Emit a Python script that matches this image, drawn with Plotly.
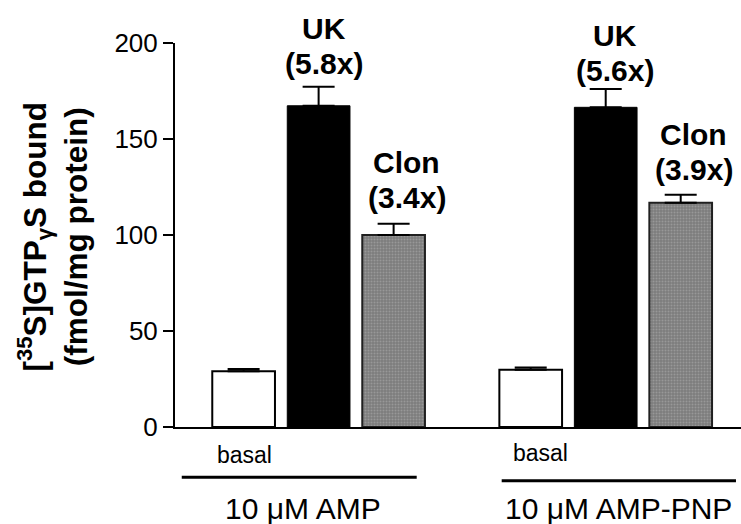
import plotly.graph_objects as go

# [35S]GTPgammaS binding, two nucleotide conditions
groups = ["10 \u03bcM AMP", "10 \u03bcM AMP-PNP"]
conditions = ["basal", "UK", "Clon"]
basal = [29.0, 29.8]
basal_err = [1.2, 1.2]
uk = [167.3, 166.5]
uk_err = [9.9, 9.5]
clon = [100.0, 116.8]
clon_err = [5.9, 4.2]
y_ticks = [0, 50, 100, 150, 200]

FONT = "Arial, Liberation Sans, sans-serif"
GROUP_STEP = 3.828
BAR_W = 0.836

def xpos(cond_idx):
    return [g * GROUP_STEP + cond_idx for g in range(len(groups))]

def err_bar(arr):
    return dict(type="data", symmetric=False, array=arr, arrayminus=[0] * len(arr),
                color="black", thickness=2, width=16)

fig = go.Figure()
fig.add_trace(go.Bar(
    x=xpos(0), y=basal, width=BAR_W, error_y=err_bar(basal_err),
    marker=dict(color="white", line=dict(color="black", width=2)), name="basal"))
fig.add_trace(go.Bar(
    x=xpos(1), y=uk, width=BAR_W, error_y=err_bar(uk_err),
    marker=dict(color="black", line=dict(color="black", width=1)), name="UK"))
fig.add_trace(go.Bar(
    x=xpos(2), y=clon, width=BAR_W, error_y=err_bar(clon_err),
    marker=dict(color="#8a8a8a", line=dict(color="#202020", width=2),
                pattern=dict(shape=".", bgcolor="#7c7c7c", fgcolor="#b4b4b4",
                             size=3, solidity=0.35)),
    name="Clon"))

annotations = []
# fold-over-basal labels above the agonist bars
label_shift = {("UK", 0): (5, 5), ("Clon", 0): (13, 8), ("UK", 1): (9, 0), ("Clon", 1): (13, 7)}
for name, vals, errs, ci in [("UK", uk, uk_err, 1), ("Clon", clon, clon_err, 2)]:
    for g in range(len(groups)):
        xs, ys = label_shift[(name, g)]
        top = vals[g] + errs[g]
        fold = f"({vals[g] / basal[g]:.1f}x)"
        annotations.append(dict(x=g * GROUP_STEP + ci, y=top, xref="x", yref="y",
                                text=f"<b>{fold}</b>", showarrow=False, xanchor="center",
                                yanchor="bottom", xshift=xs, yshift=ys,
                                font=dict(family=FONT, size=30, color="black")))
        annotations.append(dict(x=g * GROUP_STEP + ci, y=top, xref="x", yref="y",
                                text=f"<b>{name}</b>", showarrow=False, xanchor="center",
                                yanchor="bottom", xshift=xs, yshift=ys + 35,
                                font=dict(family=FONT, size=30, color="black")))

# "basal" labels under the axis
for g, (xs, yp) in enumerate([(1, -0.074), (10, -0.068)]):
    annotations.append(dict(x=g * GROUP_STEP, y=yp, xref="x", yref="paper", text="basal",
                            showarrow=False, xanchor="center", yanchor="middle", xshift=xs,
                            font=dict(family=FONT, size=23, color="black")))

# group brackets and names
bracket_x = [(-0.825, 2.308), (3.441, 6.565)]
bracket_y = [-0.131, -0.140]
group_x = [303, 618]
shapes = []
for g, name in enumerate(groups):
    x0, x1 = bracket_x[g]
    shapes.append(dict(type="line", xref="x", yref="paper", x0=x0, x1=x1,
                       y0=bracket_y[g], y1=bracket_y[g], line=dict(color="black", width=3)))
    annotations.append(dict(x=(group_x[g] - 175) / 566, y=-0.2115, xref="paper", yref="paper",
                            text=name, showarrow=False, xanchor="center", yanchor="middle",
                            font=dict(family=FONT, size=30, color="black")))

# y-axis title
annotations.append(dict(x=-0.2155, y=0.496, xref="paper", yref="paper",
                        text="<b>[<sup>35</sup>S]GTP<sub>\u03b3</sub>S bound<br>(fmol/mg protein)</b>",
                        textangle=-90, showarrow=False, xanchor="center", yanchor="middle",
                        font=dict(family=FONT, size=31.5, color="black")))

fig.update_layout(
    width=741, height=524,
    margin=dict(l=175, r=0, t=43, b=97, autoexpand=False),
    paper_bgcolor="white", plot_bgcolor="white",
    barmode="overlay", showlegend=False,
    xaxis=dict(range=[-0.915, 6.632], showline=True, linecolor="black", linewidth=2,
               showticklabels=False, ticks="", showgrid=False, zeroline=False, fixedrange=True),
    yaxis=dict(range=[0, 200], tickvals=y_ticks, showline=True, linecolor="black", linewidth=2,
               ticks="outside", ticklen=10, tickwidth=2, tickcolor="black",
               tickfont=dict(family=FONT, size=26, color="black"),
               showgrid=False, zeroline=False, automargin=False),
    annotations=annotations, shapes=shapes,
)

fig.write_html("out.html")
